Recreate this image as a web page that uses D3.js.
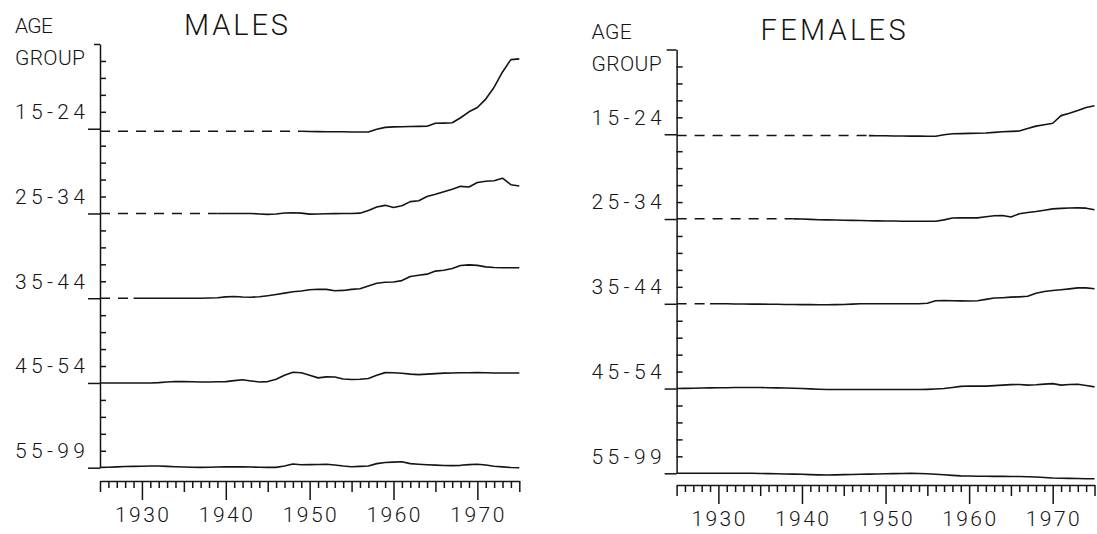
<!DOCTYPE html>
<html>
<head>
<meta charset="utf-8">
<script src="https://cdn.jsdelivr.net/npm/d3@7"></script>
<style>
  html, body { margin: 0; padding: 0; background: #fff; }
  svg { display: block; }
  text { font-family: Roboto, "Liberation Mono", sans-serif; font-weight: 300; fill: #141414; }
  .tick line, .domain { stroke: #141414; stroke-width: 1.5; }
</style>
</head>
<body>
<svg id="chart" width="1097" height="534"></svg>
<script>
// Age groups, top to bottom, and the decade labels of the time axis
const ageGroups = ["15-24", "25-34", "35-44", "45-54", "55-99"];
const decadeTicks = [1930, 1940, 1950, 1960, 1970];
const yearSpan = [1925, 1975];

// Each series is an annual record (deviation from its group's base level,
// 10 units per minor tick) beginning in the matching start year.
const maleStart = [1949, 1939, 1929, 1925, 1925];
const male15to24 = [-1.5,-1.6,-1.7,-1.8,-1.8,-1.8,-1.9,-1.9,-1.9,-0.3,0.8,1.1,1.2,1.3,1.4,1.5,3.2,3.3,3.5,6.5,10.0,12.5,17.5,24.5,33.5,40.8,41.2];
const male25to34 = [0,0,0,0,0,-0.3,-0.5,-0.3,0.3,0.4,0.2,-0.4,-0.3,-0.2,-0.1,0,0,0.2,1.8,3.8,4.8,3.5,4.6,7.0,7.5,10.0,11.3,12.8,14.3,16.0,15.6,18.3,19.0,19.3,20.8,17.0,16.2];
const male35to44 = [0,0,0,0,0,0,0,0,0,0.1,0.3,0.8,1.0,0.7,0.6,0.9,1.5,2.2,3.0,3.8,4.3,5.0,5.3,5.2,4.4,4.6,5.2,5.6,7.2,8.8,9.4,9.6,10.4,12.8,13.6,14.2,16.0,16.5,17.5,19.3,19.7,19.4,18.5,18.1,18.0,18.0,18.0];
const male45to54 = [0,0,0,0,0,0,0,0.2,0.6,0.9,0.8,0.7,0.6,0.6,0.7,0.8,1.4,1.9,1.2,0.6,0.8,2.2,4.5,6.3,6.0,4.5,3.0,3.6,3.5,2.3,2.0,2.2,2.6,4.5,6.1,6.0,5.7,5.2,4.9,5.2,5.5,5.8,5.9,6.0,6.0,6.1,6.0,5.9,5.9,5.9,5.9];
const male55to99 = [0.2,0.3,0.5,0.7,0.8,0.9,1.0,1.0,0.8,0.6,0.4,0.3,0.2,0.3,0.4,0.5,0.6,0.5,0.4,0.3,0.2,0.2,1.0,2.2,1.7,1.8,1.9,2.0,1.6,1.0,0.6,0.8,1.0,2.4,3.1,3.3,3.5,2.4,2.0,1.7,1.5,1.3,1.2,1.4,1.8,2.0,1.6,0.9,0.5,0.1,0.0];

const femaleStart = [1948, 1939, 1929, 1925, 1925];
const female15to24 = [-0.8,-0.9,-0.9,-1.0,-1.0,-1.1,-1.1,-1.2,-1.2,-0.3,0.3,0.4,0.5,0.6,0.7,1.1,1.5,1.7,1.9,3.4,4.8,5.6,6.5,11.0,12.4,14.0,15.8,16.8];
const female25to34 = [0.1,0,-0.2,-0.4,-0.5,-0.6,-0.7,-0.8,-0.9,-1.0,-1.1,-1.2,-1.2,-1.3,-1.3,-1.3,-1.3,-1.3,-0.5,0.6,0.7,0.7,0.7,1.3,1.9,2.1,1.2,3.1,3.8,4.4,5.2,6.0,6.3,6.5,6.6,6.4,5.5];
const female35to44 = [0,0,0,-0.1,-0.1,-0.2,-0.2,-0.3,-0.3,-0.4,-0.4,-0.5,-0.5,-0.6,-0.6,-0.5,-0.4,-0.2,0,0,0,0,0,0,0,0,0.3,1.8,1.9,1.8,1.7,1.6,1.8,2.6,3.4,3.6,3.9,4.1,4.4,6.2,7.2,7.8,8.3,8.8,9.4,9.4,8.9];
const female45to54 = [0,0.1,0.2,0.3,0.4,0.5,0.5,0.6,0.6,0.6,0.6,0.5,0.4,0.3,0.2,0,-0.2,-0.4,-0.6,-0.6,-0.6,-0.6,-0.6,-0.6,-0.6,-0.6,-0.6,-0.6,-0.6,-0.6,-0.5,-0.3,0,0.6,1.3,1.5,1.4,1.4,1.7,2.0,2.3,2.4,2.0,2.2,2.6,2.9,2.0,2.4,2.5,1.8,1.0];
const female55to99 = [0,0,0,0,0,0,0,0,0,0,-0.1,-0.2,-0.3,-0.4,-0.5,-0.6,-0.8,-0.9,-1.0,-0.9,-0.8,-0.7,-0.6,-0.5,-0.4,-0.3,-0.2,-0.1,0,-0.1,-0.3,-0.6,-0.9,-1.2,-1.5,-1.6,-1.7,-1.7,-1.8,-1.8,-1.9,-1.9,-2.0,-2.2,-2.5,-2.8,-2.9,-3.0,-3.1,-3.2,-3.2];

const maleSeries = [male15to24, male25to34, male35to44, male45to54, male55to99];
const femaleSeries = [female15to24, female25to34, female35to44, female45to54, female55to99];

// Units per age band: 5 minor ticks of 10 units each
const BAND = 50;

const panels = [
  { title: "MALES",   start: maleStart,   series: maleSeries,
    left: 100,   right: 519.3,  top: 44,   bottom: 467.7, axisY: 481, topTick: 6,  titleW: 104, ageW: 38 },
  { title: "FEMALES", start: femaleStart, series: femaleSeries,
    left: 676.6, right: 1094.5, top: 49.5, bottom: 473.3, axisY: 485, topTick: 10, titleW: 145, ageW: 40 }
];

const svg = d3.select("#chart");
const ink = "#141414";
const FS = 21;       // label font size
const TITLE_FS = 29; // panel title font size

panels.forEach(p => {
  const g = svg.append("g");
  const x = d3.scaleLinear().domain(yearSpan).range([p.left, p.right]);
  const y = d3.scaleLinear().domain([0, BAND * ageGroups.length]).range([p.bottom, p.top]);
  const offset = i => (ageGroups.length - 1 - i) * BAND;

  // vertical axis: base-level ticks point left, minor ticks point right
  g.append("g").attr("transform", `translate(${p.left},0)`)
    .call(d3.axisLeft(y).tickValues(ageGroups.map((d, i) => offset(i)))
      .tickSize(12).tickSizeOuter(0).tickFormat(""));
  g.append("g").attr("transform", `translate(${p.left},0)`)
    .call(d3.axisLeft(y).tickValues([BAND * ageGroups.length]).tickSize(p.topTick).tickFormat(""))
    .select(".domain").remove();
  const minor = d3.range(10, BAND * ageGroups.length, 10).filter(v => v % BAND !== 0);
  g.append("g").attr("transform", `translate(${p.left},0)`)
    .call(d3.axisRight(y).tickValues(minor).tickSize(6).tickFormat(""))
    .select(".domain").remove();

  // horizontal time axis with yearly, five-year and decade ticks
  const years = d3.range(yearSpan[0], yearSpan[1] + 1);
  const xa = g.append("g").attr("transform", `translate(0,${p.axisY})`);
  xa.append("g").call(d3.axisBottom(x).tickValues(years.filter(yr => yr % 5 !== 0))
      .tickSize(7).tickSizeOuter(0).tickFormat(""));
  xa.append("g").call(d3.axisBottom(x).tickValues(years.filter(yr => yr % 5 === 0 && yr % 10 !== 0))
      .tickSize(11).tickFormat("")).select(".domain").remove();
  xa.append("g").call(d3.axisBottom(x).tickValues(decadeTicks)
      .tickSize(19).tickFormat("")).select(".domain").remove();

  g.selectAll(".decade").data(decadeTicks).join("text")
    .attr("x", d => x(d)).attr("y", p.axisY + 41)
    .attr("text-anchor", "middle").attr("font-size", FS)
    .attr("textLength", 54).attr("lengthAdjust", "spacing")
    .text(d => d);

  // axis titles and panel title
  g.append("text").attr("x", p.left - 85).attr("y", p.top - 11)
    .attr("font-size", FS).attr("textLength", p.ageW).attr("lengthAdjust", "spacing").text("AGE");
  g.append("text").attr("x", p.left - 85).attr("y", p.top + 21)
    .attr("font-size", FS).attr("textLength", 70).attr("lengthAdjust", "spacing").text("GROUP");
  g.append("text").attr("x", p.left + 84).attr("y", p.top - 9.5)
    .attr("font-size", TITLE_FS).attr("textLength", p.titleW).attr("lengthAdjust", "spacing").text(p.title);

  // age group labels, centred on the first minor tick above each base level
  g.selectAll(".age").data(ageGroups).join("text")
    .attr("x", p.left - 15).attr("y", (d, i) => y(offset(i) + 10) + 7.3)
    .attr("text-anchor", "end").attr("font-size", FS)
    .attr("textLength", 70).attr("lengthAdjust", "spacing")
    .text(d => d);

  // series lines; a dashed lead-in marks the years before a record begins
  const line = d3.line().x(d => x(d.year)).y(d => y(d.v));
  p.series.forEach((vals, i) => {
    const pts = vals.map((v, k) => ({ year: p.start[i] + k, v: offset(i) + v }));
    if (p.start[i] > yearSpan[0]) {
      g.append("path")
        .attr("d", line([{ year: yearSpan[0], v: pts[0].v }, pts[0]]))
        .attr("fill", "none").attr("stroke", ink).attr("stroke-width", 1.5)
        .attr("stroke-dasharray", "10 8");
    }
    g.append("path").attr("d", line(pts))
      .attr("fill", "none").attr("stroke", ink).attr("stroke-width", 1.6)
      .attr("stroke-linejoin", "round");
  });
});
</script>
</body>
</html>
